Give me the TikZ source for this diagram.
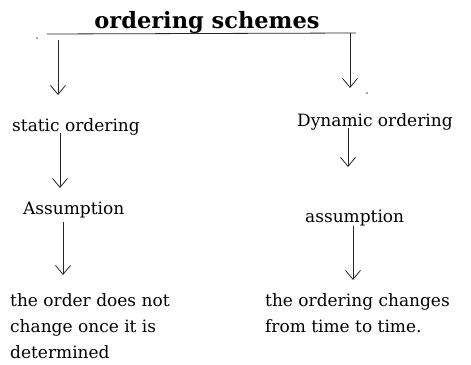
\documentclass[tikz,border=0pt]{standalone}
\usepackage{fontspec}
\setmainfont{DejaVu Serif}
\usetikzlibrary{arrows.meta}
\begin{document}
\begin{tikzpicture}[x=1pt,y=-1pt,
  lbl/.style={inner sep=0pt,anchor=base west,font=\fontsize{17}{26}\selectfont,align=left},
  ttl/.style={inner sep=0pt,anchor=base,font=\fontsize{22.5}{26}\selectfont\bfseries},
  bar/.style={line width=0.8pt,draw=black!85},
  arr/.style={line width=0.8pt,draw=black!85,-{Straight Barb[length=9pt,width=15pt,line width=0.8pt]}},
  speck/.style={fill=black!70}]
\useasboundingbox (0,0) rectangle (471,364);
\node[ttl] (t) at (207,28) {ordering schemes};
\node[lbl] (s) at (12,131) {static ordering};
\node[lbl] (d) at (297,126) {Dynamic ordering};
\node[lbl] (a1) at (23,214) {Assumption};
\node[lbl] (a2) at (305,222) {assumption};
\node[lbl] (r1) at (10,358) {the order does not\\change once it is\\determined};
\node[lbl] (r2) at (265,332) {the ordering changes\\from time to time.};
\coordinate (bl) at (47,34);
\coordinate (br) at (356,33);
\draw[bar] (bl) -- (br);
\coordinate (p1) at (58,40);  \coordinate (q1) at (58,95);
\coordinate (p2) at (350,33); \coordinate (q2) at (350,88);
\coordinate (p3) at (60,133); \coordinate (q3) at (60,188);
\coordinate (p4) at (348,128);\coordinate (q4) at (348,167);
\coordinate (p5) at (63,222); \coordinate (q5) at (63,275);
\coordinate (p6) at (353,226);\coordinate (q6) at (353,280);
\draw[arr] (p1) -- (q1);
\draw[arr] (p2) -- (q2);
\draw[arr] (p3) -- (q3);
\draw[arr] (p4) -- (q4);
\draw[arr] (p5) -- (q5);
\draw[arr] (p6) -- (q6);
\fill[speck] (37,38) circle (0.8pt);
\fill[speck] (367,93) circle (0.8pt);
\end{tikzpicture}
\end{document}
